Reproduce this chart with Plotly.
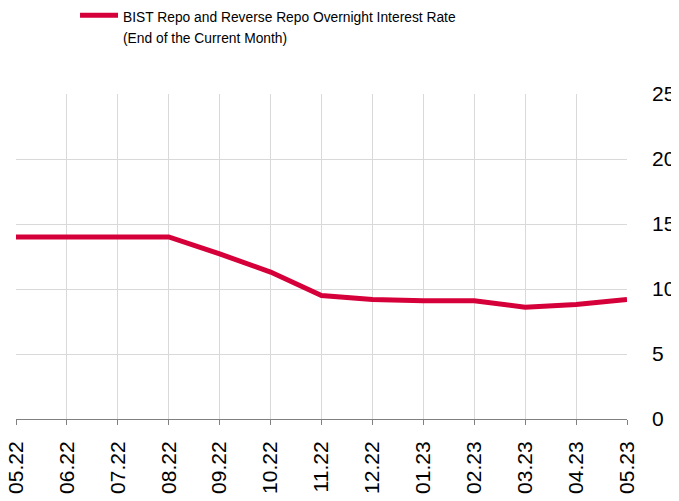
import plotly.graph_objects as go

months = ["05.22", "06.22", "07.22", "08.22", "09.22", "10.22", "11.22",
          "12.22", "01.23", "02.23", "03.23", "04.23", "05.23"]
repo_rate = [14.0, 14.0, 14.0, 14.0, 12.7, 11.3, 9.5, 9.2, 9.1, 9.1, 8.6, 8.8, 9.2]
legend_lines = ["BIST Repo and Reverse Repo Overnight Interest Rate",
                "(End of the Current Month)"]
y_ticks = [0, 5, 10, 15, 20, 25]

series_name = "<br>".join(
    "<span style='font-size:13.8px'>" + s + "</span>" for s in legend_lines
)

fig = go.Figure()
fig.add_trace(go.Scatter(
    x=months, y=repo_rate, mode="lines", name=series_name,
    line=dict(color="#D5003A", width=5),
))

fig.update_layout(
    width=679, height=501,
    margin=dict(l=8, r=60, t=86, b=90, autoexpand=False),
    paper_bgcolor="white", plot_bgcolor="white",
    showlegend=True,
    legend=dict(
        orientation="h", x=0.0966, xanchor="left", y=1.295, yanchor="top",
        yref="paper", valign="top",
        font=dict(family="Liberation Sans, Arial", size=16.5, color="#000000"),
        itemwidth=38, bgcolor="rgba(0,0,0,0)",
    ),
    font=dict(family="Liberation Sans, Arial", color="#000000"),
)
fig.update_xaxes(
    type="category", range=[0, len(months) - 1], automargin=False,
    showgrid=True, gridcolor="#D9D9D9", gridwidth=1,
    showline=True, linecolor="#808080", linewidth=1,
    ticks="outside", ticklen=5, tickcolor="#808080",
    ticklabelstandoff=8,
    tickangle=-90, tickfont=dict(size=21, color="#000000"),
    zeroline=False,
)
fig.update_yaxes(
    side="right", range=[0, 25], tickvals=y_ticks, automargin=False,
    showgrid=True, gridcolor="#D9D9D9", gridwidth=1,
    showline=False, zeroline=False, ticks="",
    ticklabelstandoff=24,
    tickfont=dict(size=21, color="#000000"),
)

fig.write_html("out.html")
